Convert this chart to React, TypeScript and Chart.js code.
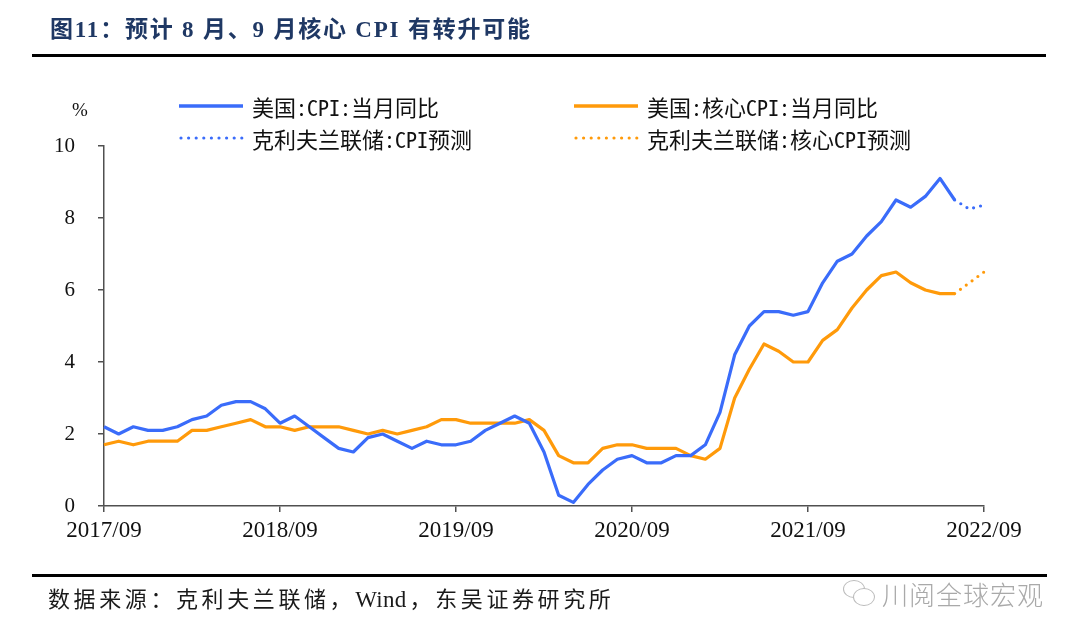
import React, { useEffect, useRef } from "react";
import { Chart, registerables } from "chart.js";

Chart.register(...registerables);

const months: string[] = [
  "2017/09", "2017/10", "2017/11", "2017/12",
  "2018/01", "2018/02", "2018/03", "2018/04", "2018/05", "2018/06", "2018/07", "2018/08", "2018/09", "2018/10", "2018/11", "2018/12",
  "2019/01", "2019/02", "2019/03", "2019/04", "2019/05", "2019/06", "2019/07", "2019/08", "2019/09", "2019/10", "2019/11", "2019/12",
  "2020/01", "2020/02", "2020/03", "2020/04", "2020/05", "2020/06", "2020/07", "2020/08", "2020/09", "2020/10", "2020/11", "2020/12",
  "2021/01", "2021/02", "2021/03", "2021/04", "2021/05", "2021/06", "2021/07", "2021/08", "2021/09", "2021/10", "2021/11", "2021/12",
  "2022/01", "2022/02", "2022/03", "2022/04", "2022/05", "2022/06", "2022/07", "2022/08", "2022/09",
];

const xTickLabels: string[] = ["2017/09", "2018/09", "2019/09", "2020/09", "2021/09", "2022/09"];

// 美国:CPI:当月同比 (2017/09 - 2022/07)
const cpiActual: number[] = [
  2.2, 2.0, 2.2, 2.1, 2.1, 2.2, 2.4, 2.5, 2.8, 2.9,
  2.9, 2.7, 2.3, 2.5, 2.2, 1.9, 1.6, 1.5, 1.9, 2.0,
  1.8, 1.6, 1.8, 1.7, 1.7, 1.8, 2.1, 2.3, 2.5, 2.3,
  1.5, 0.3, 0.1, 0.6, 1.0, 1.3, 1.4, 1.2, 1.2, 1.4,
  1.4, 1.7, 2.6, 4.2, 5.0, 5.4, 5.4, 5.3, 5.4, 6.2,
  6.8, 7.0, 7.5, 7.9, 8.5, 8.3, 8.6, 9.1, 8.5,
];

// 美国:核心CPI:当月同比 (2017/09 - 2022/07)
const coreActual: number[] = [
  1.7, 1.8, 1.7, 1.8, 1.8, 1.8, 2.1, 2.1, 2.2, 2.3,
  2.4, 2.2, 2.2, 2.1, 2.2, 2.2, 2.2, 2.1, 2.0, 2.1,
  2.0, 2.1, 2.2, 2.4, 2.4, 2.3, 2.3, 2.3, 2.3, 2.4,
  2.1, 1.4, 1.2, 1.2, 1.6, 1.7, 1.7, 1.6, 1.6, 1.6,
  1.4, 1.3, 1.6, 3.0, 3.8, 4.5, 4.3, 4.0, 4.0, 4.6,
  4.9, 5.5, 6.0, 6.4, 6.5, 6.2, 6.0, 5.9, 5.9,
];

// 克利夫兰联储预测 (2022/07 anchor, 2022/08, 2022/09)
const forecastMonths: string[] = ["2022/07", "2022/08", "2022/09"];
const cpiForecast: number[] = [8.5, 8.25, 8.36];
const coreForecast: number[] = [5.9, 6.2, 6.5];

const BLUE = "#3A6CFA";
const ORANGE = "#FF9A0A";

function buildSeries(src: number[], labels: string[]): (number | null)[] {
  return months.map((m) => {
    const i = labels.indexOf(m);
    return i >= 0 ? src[i] : null;
  });
}

const legendFont = '"Noto Sans Mono CJK SC", "Noto Sans CJK SC", sans-serif';

function LegendItem(props: { x: number; y: number; color: string; dotted: boolean; text: string }) {
  const { x, y, color, dotted, text } = props;
  return (
    <div style={{ position: "absolute", left: x, top: y - 15, height: 30, display: "flex", alignItems: "center" }}>
      <svg width={66} height={10} style={{ display: "block" }}>
        {dotted ? (
          <line x1={2} y1={5} x2={64} y2={5} stroke={color} strokeWidth={3.2} strokeLinecap="round" strokeDasharray="0 7.6" />
        ) : (
          <line x1={0} y1={5} x2={64} y2={5} stroke={color} strokeWidth={3.5} />
        )}
      </svg>
      <span style={{ marginLeft: 7, fontFamily: legendFont, fontSize: 22, color: "#111", whiteSpace: "nowrap", lineHeight: "30px" }}>
        {text}
      </span>
    </div>
  );
}

export default function App() {
  const canvasRef = useRef<HTMLCanvasElement | null>(null);

  useEffect(() => {
    if (!canvasRef.current) return;
    const monthLabels = months;
    const chart = new Chart(canvasRef.current, {
      type: "line",
      data: {
        labels: monthLabels,
        datasets: [
          {
            label: "美国:CPI:当月同比",
            data: buildSeries(cpiActual, monthLabels.slice(0, cpiActual.length)),
            borderColor: BLUE,
            borderWidth: 3.2,
            pointRadius: 0,
            tension: 0,
            borderJoinStyle: "round",
          },
          {
            label: "克利夫兰联储:CPI预测",
            data: buildSeries(cpiForecast, forecastMonths),
            borderColor: BLUE,
            borderWidth: 3.2,
            pointRadius: 0,
            borderDash: [0, 7.2],
            borderCapStyle: "round",
          },
          {
            label: "美国:核心CPI:当月同比",
            data: buildSeries(coreActual, monthLabels.slice(0, coreActual.length)),
            borderColor: ORANGE,
            borderWidth: 3.2,
            pointRadius: 0,
            tension: 0,
            borderJoinStyle: "round",
          },
          {
            label: "克利夫兰联储:核心CPI预测",
            data: buildSeries(coreForecast, forecastMonths),
            borderColor: ORANGE,
            borderWidth: 3.2,
            pointRadius: 0,
            borderDash: [0, 7.2],
            borderCapStyle: "round",
          },
        ],
      },
      options: {
        responsive: false,
        animation: false,
        layout: { padding: { left: 0, right: 96, top: 146, bottom: 94 } },
        plugins: { legend: { display: false }, tooltip: { enabled: false }, title: { display: false } },
        scales: {
          x: {
            type: "category",
            offset: false,
            grid: { display: true, drawOnChartArea: false, drawTicks: true, tickLength: 6, color: "#505050", lineWidth: 1.5 },
            border: { display: true, color: "#505050", width: 1.5 },
            ticks: {
              autoSkip: false,
              maxRotation: 0,
              minRotation: 0,
              padding: 5,
              color: "#111",
              font: { family: '"Liberation Serif", serif', size: 23 },
              callback: function (_v: any, i: number) {
                const l = monthLabels[i];
                return xTickLabels.includes(l) ? l : null;
              },
            },
            afterFit: (s: any) => {
              s.height = 40;
            },
          },
          y: {
            min: 0,
            max: 10,
            grid: { display: true, drawOnChartArea: false, drawTicks: true, tickLength: 6, color: "#505050", lineWidth: 1.5 },
            border: { display: true, color: "#505050", width: 1.5 },
            ticks: {
              stepSize: 2,
              padding: 23,
              color: "#111",
              font: { family: '"Liberation Serif", serif', size: 21 },
            },
            afterFit: (s: any) => {
              s.width = 104;
            },
          },
        },
      },
    } as any);
    return () => chart.destroy();
  }, []);

  return (
    <div style={{ position: "fixed", left: 0, top: 0, width: 1080, height: 640, background: "#fff", overflow: "hidden" }}>
      <canvas ref={canvasRef} width={1080} height={640} style={{ position: "absolute", left: 0, top: 0, width: 1080, height: 640 }} />
      <div
        style={{
          position: "absolute",
          left: 50,
          top: 14,
          fontFamily: '"Liberation Serif", "Noto Sans CJK SC", serif',
          fontWeight: 700,
          fontSize: 23,
          letterSpacing: 1.8,
          color: "#1F3864",
          whiteSpace: "nowrap",
          lineHeight: "32px",
        }}
      >
        图11：预计 8 月、9 月核心 CPI 有转升可能
      </div>
      <div style={{ position: "absolute", left: 32, top: 53.5, width: 1014, height: 3, background: "#000" }} />
      <div style={{ position: "absolute", left: 70, top: 98, width: 20, textAlign: "center", fontFamily: '"Liberation Serif", serif', fontSize: 19, color: "#111", lineHeight: "24px" }}>%</div>
      <LegendItem x={179} y={106} color={BLUE} dotted={false} text="美国:CPI:当月同比" />
      <LegendItem x={179} y={138} color={BLUE} dotted={true} text="克利夫兰联储:CPI预测" />
      <LegendItem x={574} y={106} color={ORANGE} dotted={false} text="美国:核心CPI:当月同比" />
      <LegendItem x={574} y={138} color={ORANGE} dotted={true} text="克利夫兰联储:核心CPI预测" />
      <div style={{ position: "absolute", left: 32, top: 573.5, width: 1015, height: 3, background: "#000" }} />
      <div
        style={{
          position: "absolute",
          left: 48,
          top: 585,
          fontFamily: '"Liberation Serif", "Noto Sans CJK SC", serif',
          fontSize: 22,
          letterSpacing: 3.6,
          color: "#1a1a1a",
          whiteSpace: "nowrap",
          lineHeight: "30px",
        }}
      >
        数据来源：克利夫兰联储，<span style={{ letterSpacing: 0.3, marginRight: 3, fontSize: 23 }}>Wind</span>，东吴证券研究所
      </div>
      <div style={{ position: "absolute", left: 843, top: 580, width: 30, height: 26 }}>
        <div style={{ position: "absolute", left: 0, top: 0, width: 20, height: 16, border: "1.5px solid #bbb", borderRadius: "50%", background: "#fff" }} />
        <div style={{ position: "absolute", left: 10, top: 8, width: 20, height: 16, border: "1.5px solid #bbb", borderRadius: "50%", background: "#fff" }} />
      </div>
      <div
        style={{
          position: "absolute",
          left: 882,
          top: 577,
          fontFamily: '"Noto Sans CJK SC", sans-serif',
          fontWeight: 300,
          fontSize: 26,
          letterSpacing: 1,
          color: "#a9a9a9",
          whiteSpace: "nowrap",
          lineHeight: "34px",
        }}
      >
        川阅全球宏观
      </div>
    </div>
  );
}
